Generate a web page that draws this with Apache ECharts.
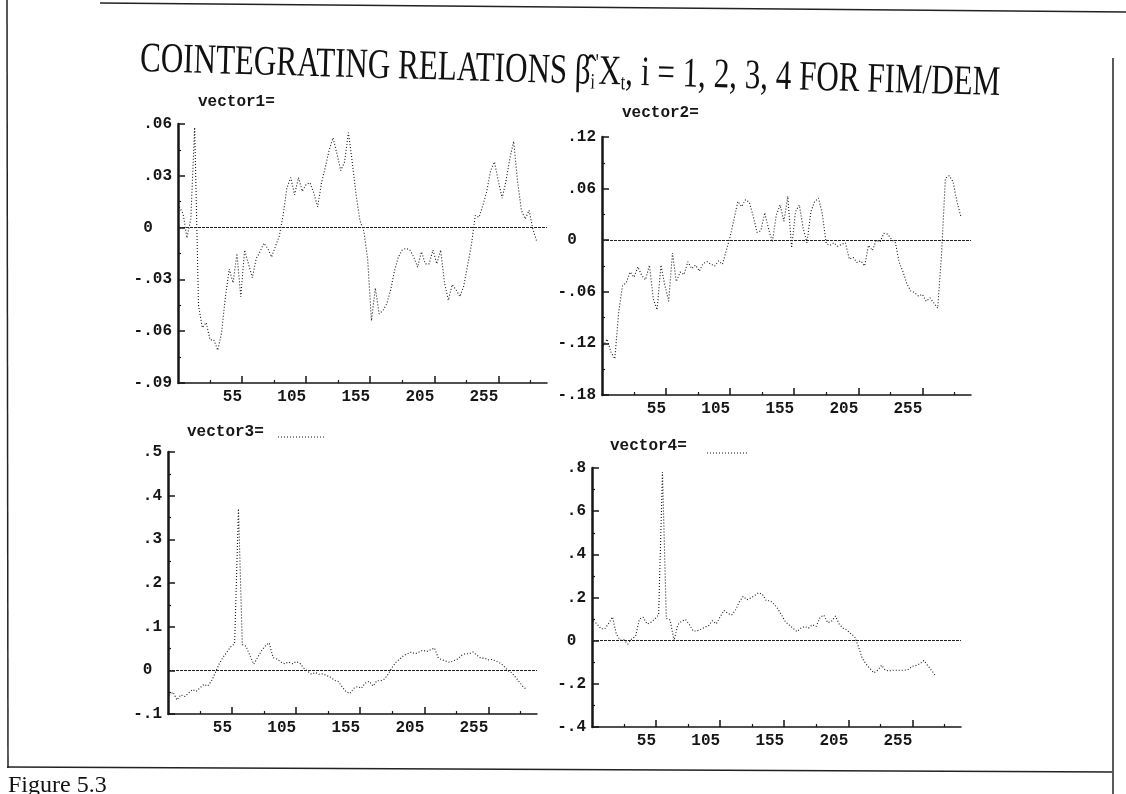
<!DOCTYPE html>
<html>
<head>
<meta charset="utf-8">
<script src="https://cdn.jsdelivr.net/npm/echarts@6/dist/echarts.min.js"></script>
<style>
html,body{margin:0;padding:0;background:#fff;}
#c{width:1126px;height:794px;}
</style>
</head>
<body>
<div id="c"></div>
<script>
// ---------------- DATA ----------------
// time index (observation number)
const T = [
  6,9,12,15,18,21,24,27,30,33,
  36,39,42,45,48,51,54,57,60,63,
  66,69,72,75,78,81,84,87,90,93,
  96,99,102,105,108,111,114,117,120,123,
  126,129,132,135,138,141,144,147,150,153,
  156,159,162,165,168,171,174,177,180,183,
  186,189,192,195,198,201,204,207,210,213,
  216,219,222,225,228,231,234,237,240,243,
  246,249,252,255,258,261,264,267,270,273,
  276,279,282,285
];

const vector1 = [
  0.012, 0.008, -0.006, 0.005, 0.058, -0.045, -0.058, -0.055, -0.065, -0.065,
  -0.071, -0.061, -0.040, -0.024, -0.032, -0.015, -0.040, -0.013, -0.021, -0.029,
  -0.018, -0.014, -0.009, -0.012, -0.017, -0.011, -0.005, 0.007, 0.023, 0.029,
  0.019, 0.029, 0.021, 0.025, 0.026, 0.020, 0.012, 0.026, 0.035, 0.045,
  0.052, 0.043, 0.033, 0.038, 0.055, 0.038, 0.019, 0.004, -0.002, -0.018,
  -0.054, -0.035, -0.050, -0.048, -0.044, -0.036, -0.025, -0.017, -0.013, -0.012,
  -0.013, -0.017, -0.023, -0.014, -0.021, -0.021, -0.013, -0.021, -0.013, -0.032,
  -0.042, -0.033, -0.036, -0.040, -0.034, -0.022, -0.010, 0.007, 0.006, 0.013,
  0.021, 0.033, 0.038, 0.027, 0.017, 0.027, 0.040, 0.050, 0.027, 0.010,
  0.005, 0.010, -0.001, -0.008
];

const vector2 = [
  -0.123, -0.115, -0.130, -0.138, -0.084, -0.053, -0.049, -0.037, -0.043, -0.031,
  -0.041, -0.046, -0.029, -0.068, -0.081, -0.029, -0.052, -0.071, -0.015, -0.048,
  -0.037, -0.040, -0.025, -0.033, -0.029, -0.036, -0.027, -0.025, -0.028, -0.030,
  -0.024, -0.028, -0.012, 0.004, 0.024, 0.045, 0.039, 0.047, 0.044, 0.028,
  0.009, 0.011, 0.032, 0.013, -0.002, 0.029, 0.041, 0.022, 0.051, -0.009,
  0.033, 0.041, 0.014, -0.003, 0.033, 0.045, 0.049, 0.030, -0.004, -0.006,
  -0.003, -0.007, -0.005, -0.003, -0.022, -0.020, -0.026, -0.024, -0.030, -0.006,
  -0.012, 0.000, -0.002, 0.008, 0.007, 0.001, -0.003, -0.026, -0.037, -0.051,
  -0.059, -0.061, -0.065, -0.063, -0.071, -0.067, -0.073, -0.079, -0.017, 0.072,
  0.075, 0.068, 0.045, 0.028
];

const vector3 = [
  -0.057, -0.050, -0.068, -0.056, -0.060, -0.052, -0.044, -0.048, -0.040, -0.032,
  -0.036, -0.024, -0.005, 0.015, 0.030, 0.042, 0.054, 0.061, 0.370, 0.059,
  0.055, 0.033, 0.014, 0.030, 0.045, 0.056, 0.063, 0.029, 0.026, 0.019,
  0.015, 0.019, 0.015, 0.020, 0.016, 0.005, -0.002, -0.009, -0.005, -0.009,
  -0.008, -0.012, -0.016, -0.023, -0.026, -0.038, -0.049, -0.053, -0.041, -0.037,
  -0.041, -0.029, -0.025, -0.036, -0.024, -0.024, -0.020, -0.008, 0.007, 0.019,
  0.026, 0.034, 0.038, 0.042, 0.038, 0.042, 0.046, 0.043, 0.047, 0.051,
  0.028, 0.024, 0.021, 0.018, 0.022, 0.026, 0.034, 0.038, 0.038, 0.042,
  0.035, 0.028, 0.028, 0.024, 0.025, 0.021, 0.017, 0.010, 0.000, -0.005,
  -0.015, -0.026, -0.037, -0.044
];

const vector4 = [
  0.092, 0.077, 0.055, 0.055, 0.080, 0.110, 0.030, 0.003, 0.004, -0.016,
  0.009, 0.020, 0.100, 0.108, 0.077, 0.085, 0.100, 0.120, 0.780, 0.103,
  0.096, 0.000, 0.074, 0.090, 0.098, 0.075, 0.045, 0.045, 0.053, 0.062,
  0.070, 0.093, 0.078, 0.110, 0.140, 0.126, 0.119, 0.142, 0.180, 0.205,
  0.190, 0.198, 0.210, 0.222, 0.215, 0.185, 0.185, 0.170, 0.148, 0.118,
  0.087, 0.072, 0.057, 0.042, 0.058, 0.066, 0.058, 0.074, 0.066, 0.108,
  0.118, 0.083, 0.090, 0.114, 0.076, 0.058, 0.049, 0.031, 0.019, -0.029,
  -0.083, -0.109, -0.129, -0.149, -0.137, -0.114, -0.137, -0.140, -0.137, -0.137,
  -0.137, -0.137, -0.133, -0.119, -0.115, -0.107, -0.092, -0.115, -0.138, -0.161,
  null, null, null, null
];

// tick labels / ticks of the time axis
const xLabels = [55, 105, 155, 205, 255];
const xMinorTicks = [30, 80, 130, 180, 230, 280];
const xRange = [5, 293];

// y scales: [min, max, step, decimals]
const yScale1 = [-0.09, 0.06, 0.03, 2];
const yScale2 = [-0.18, 0.12, 0.06, 2];
const yScale3 = [-0.1, 0.5, 0.1, 1];
const yScale4 = [-0.4, 0.8, 0.2, 1];

const panelNames = ['vector1=', 'vector2=', 'vector3=', 'vector4='];
const mainTitleParts = ['COINTEGRATING RELATIONS ', '\u03b2\u0302', 'i', '\'', 'X', 't', ', i = 1, 2, 3, 4 FOR FIM/DEM'];
const figureCaption = 'Figure 5.3';

// ---------------- LAYOUT / STYLE ----------------
const panels = [
  { values: vector1, scale: yScale1, zeroPad: 2 },
  { values: vector2, scale: yScale2, zeroPad: 2 },
  { values: vector3, scale: yScale3, zeroPad: 1 },
  { values: vector4, scale: yScale4, zeroPad: 1 }
];
const layout = [
  { left: 178, top: 124, width: 369, height: 259, tx: 198, ty: 102 },
  { left: 602, top: 137, width: 369, height: 258, tx: 622, ty: 113 },
  { left: 168, top: 452, width: 369, height: 262, tx: 187, ty: 432 },
  { left: 592, top: 468, width: 369, height: 259, tx: 610, ty: 446 }
];

const INK = '#161616';
const monoFont = 'Liberation Mono';

function yFormatter(dec, zeroPad) {
  return function (v) {
    if (Math.abs(v) < 1e-9) return '0' + ' '.repeat(zeroPad);
    return v.toFixed(dec).replace(/^(-?)0\./, '$1.');
  };
}

const grids = [], xAxes = [], yAxes = [], series = [];
panels.forEach(function (p, i) {
  const L = layout[i];
  grids.push({ left: L.left, top: L.top, width: L.width, height: L.height });
  xAxes.push({
    gridIndex: i, type: 'value', min: xRange[0], max: xRange[1], position: 'bottom',
    axisLine: { show: true, onZero: false, lineStyle: { color: INK, width: 1.5 } },
    axisTick: { show: true, inside: true, length: 7, customValues: xLabels, lineStyle: { color: INK, width: 1.5 } },
    axisLabel: { show: true, customValues: xLabels, align: 'right', margin: 6,
      fontFamily: monoFont, fontWeight: 'bold', fontSize: 16, color: INK },
    splitLine: { show: false }
  });
  xAxes.push({
    gridIndex: i, type: 'value', min: xRange[0], max: xRange[1], position: 'top', offset: -L.height,
    axisLine: { show: false, onZero: false },
    axisTick: { show: true, inside: false, length: 3, customValues: xMinorTicks, lineStyle: { color: INK, width: 1.2 } },
    axisLabel: { show: false },
    splitLine: { show: false }
  });
  const s = p.scale;
  yAxes.push({
    gridIndex: i, type: 'value', min: s[0], max: s[1], interval: s[2],
    axisLine: { show: true, onZero: false, lineStyle: { color: INK, width: 2.5 } },
    axisTick: { show: true, inside: true, length: 7, lineStyle: { color: INK, width: 1.5 } },
    minorTick: { show: true, splitNumber: 2, length: 3, lineStyle: { color: INK, width: 1.2 } },
    axisLabel: { show: true, margin: 6, formatter: yFormatter(s[3], p.zeroPad),
      fontFamily: monoFont, fontWeight: 'bold', fontSize: 16, color: INK },
    splitLine: { show: false }, minorSplitLine: { show: false }
  });
  series.push({
    type: 'line', xAxisIndex: 2 * i, yAxisIndex: i,
    data: T.map(function (t, k) { return [t, p.values[k]]; }),
    symbol: 'none', showSymbol: false, connectNulls: false, silent: true,
    lineStyle: { color: INK, width: 1.1, type: [1, 2] },
    markLine: {
      silent: true, symbol: ['none', 'none'], label: { show: false },
      lineStyle: { color: '#222', width: 1, type: [3, 1] },
      data: [{ yAxis: 0 }]
    }
  });
});

const graphics = [
  // scanned page frame
  { type: 'line', shape: { x1: 7, y1: 0, x2: 8, y2: 768 }, style: { stroke: '#222', lineWidth: 1.5 } },
  { type: 'line', shape: { x1: 7, y1: 767, x2: 1112, y2: 772 }, style: { stroke: '#222', lineWidth: 1.5 } },
  { type: 'line', shape: { x1: 1113, y1: 58, x2: 1113, y2: 794 }, style: { stroke: '#222', lineWidth: 1.5 } },
  { type: 'line', shape: { x1: 100, y1: 3, x2: 1126, y2: 12 }, style: { stroke: '#222', lineWidth: 1.5 } },
  // main title
  {
    type: 'text', x: 140, y: 60, scaleX: 0.74, rotation: -0.028,
    style: {
      text: '{a|' + mainTitleParts[0] + '}{a|' + mainTitleParts[1] + '}{s|' + mainTitleParts[2] + '}{p|' +
        mainTitleParts[3] + '}{a|' + mainTitleParts[4] + '}{s|' + mainTitleParts[5] + '}{a|' + mainTitleParts[6] + '}',
      rich: {
        a: { fontSize: 42, fontFamily: 'Liberation Serif', fill: '#111' },
        s: { fontSize: 22, fontFamily: 'Liberation Serif', fill: '#111', verticalAlign: 'bottom' },
        p: { fontSize: 24, fontFamily: 'Liberation Serif', fill: '#111', verticalAlign: 'top' }
      },
      font: '42px "Liberation Serif"', fill: '#111', textAlign: 'left', textVerticalAlign: 'middle'
    }
  },
  // figure caption
  { type: 'text', x: 8, y: 786, style: { text: figureCaption, font: '24px "Liberation Serif"', fill: '#111', textAlign: 'left', textVerticalAlign: 'middle' } }
];
layout.forEach(function (L, i) {
  graphics.push({ type: 'text', x: L.tx, y: L.ty,
    style: { text: panelNames[i], font: 'bold 16px "Liberation Mono"', fill: INK, textAlign: 'left', textVerticalAlign: 'middle' } });
});
// dotted legend samples after vector3= and vector4=
graphics.push({ type: 'line', shape: { x1: 278, y1: 437, x2: 326, y2: 437 }, style: { stroke: INK, lineWidth: 1, lineDash: [1, 2] } });
graphics.push({ type: 'line', shape: { x1: 707, y1: 453, x2: 748, y2: 453 }, style: { stroke: INK, lineWidth: 1, lineDash: [1, 2] } });

const chart = echarts.init(document.getElementById('c'), null, { renderer: 'canvas' });
chart.setOption({
  backgroundColor: '#ffffff',
  animation: false,
  grid: grids,
  xAxis: xAxes,
  yAxis: yAxes,
  series: series,
  graphic: graphics
});
</script>
</body>
</html>
